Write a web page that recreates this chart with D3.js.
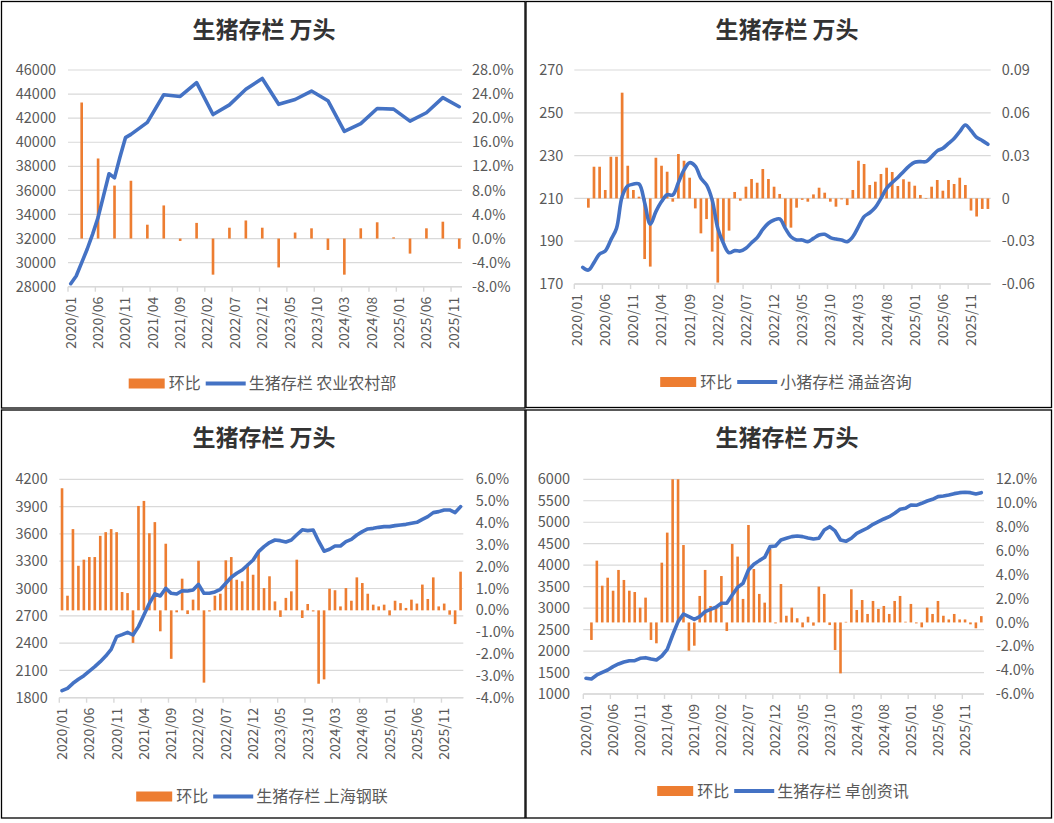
<!DOCTYPE html>
<html><head><meta charset="utf-8">
<script src="https://cdn.jsdelivr.net/npm/d3@7"></script>
<style>body{margin:0;background:#fff}svg{display:block}</style>
</head><body><svg id="c" width="1054" height="823"></svg>
<script>
const FONT = '"Noto Sans CJK SC","Noto Sans",sans-serif';
const ORANGE = '#ED7D31', BLUE = '#4472C4', GRID = '#d9d9d9', LABEL = '#595959';

// ---------- categories ----------
const months = d3.range(74).map(i => `${2020 + Math.floor(i / 12)}/${String(i % 12 + 1).padStart(2, '0')}`);
const title = '生猪存栏 万头';

// ---------- panel 1: 农业农村部 ----------
const moaMonths = ["2020/01","2020/02","2020/03","2020/04","2020/05","2020/06","2020/07","2020/08","2020/09","2020/10","2020/11","2020/12",
  "2021/03","2021/06","2021/09","2021/12","2022/03","2022/06","2022/09","2022/12","2023/03","2023/06","2023/09","2023/12",
  "2024/03","2024/06","2024/09","2024/12","2025/03","2025/06","2025/09","2025/12"];
const moaStock = [28250,28890,30000,31110,32370,33760,35570,37380,37040,38770,40380,40650,
  41650,43950,43800,44950,42300,43100,44400,45300,43150,43550,44250,43450,
  40900,41550,42800,42750,41750,42450,43700,42950];
const moaChgMonths = ["2020/03","2020/06","2020/09","2020/12",
  "2021/03","2021/06","2021/09","2021/12","2022/03","2022/06","2022/09","2022/12","2023/03","2023/06","2023/09","2023/12",
  "2024/03","2024/06","2024/09","2024/12","2025/03","2025/06","2025/09","2025/12"];
const moaChg = [22.6,13.3,8.8,9.6,2.3,5.5,-0.4,2.6,-6.0,1.8,3.0,1.8,-4.8,1.0,1.7,-1.9,-6.0,1.7,2.7,0.2,-2.5,1.7,2.8,-1.7];

// ---------- panel 2: 涌益咨询 小猪存栏 ----------
const yyStock = [null,177.8,176.5,180,184,185.4,190.6,196,210.8,215.8,216.7,216.7,208,197.9,203.8,208.5,211.7,211.6,217.4,223.3,
  226.7,225.1,219.4,216.3,209.3,196,189,184.6,185.6,185.4,186.7,189.3,191.7,195.5,198.4,199.9,200.4,196,192.1,190.6,
  190.6,189.8,191.3,192.9,193.2,191.7,191,190.6,189.8,192.1,196.8,201.5,203.3,205.8,210,214.7,217.4,219.8,222.5,225.1,
  226.9,227.2,227.2,229.5,232.2,233.4,235.7,238,241.2,244.3,241.7,238.5,237,235.3];
const yyChg = [null,null,-0.0065,0.0222,0.0222,0.0059,0.0292,0.0292,0.0741,0.0229,0.0059,0.0012,-0.0425,-0.0478,0.0285,0.0229,
  0.0187,-0.0023,0.0311,0.0264,0.0145,-0.007,-0.0245,-0.0145,-0.0373,-0.059,-0.0303,-0.0226,0.0045,-0.0016,0.0082,0.0136,
  0.011,0.0206,0.0136,0.0082,0.0031,-0.0198,-0.0205,-0.0065,-0.001,-0.0023,0.0028,0.0075,0.004,-0.0023,-0.0058,-0.0007,
  -0.0047,0.0059,0.0264,0.0241,0.0094,0.0117,0.0171,0.0215,0.0185,0.0087,0.0134,0.0117,0.0089,0.0024,-0.0004,0.0082,
  0.0129,0.0054,0.0129,0.0101,0.0145,0.0094,-0.0085,-0.0127,-0.0074,-0.0074];

// ---------- panel 3: 上海钢联 ----------
const slStock = [1877,1903,1958,2002,2042,2093,2141,2196,2258,2331,2471,2493,2518,2489,2581,2709,2837,2940,2918,3002,
  2947,2940,2976,2973,2984,3046,2947,2947,2962,2991,3057,3123,3167,3203,3258,3313,3405,3460,3505,3533,
  3526,3511,3533,3590,3645,3636,3643,3520,3410,3431,3467,3467,3515,3540,3588,3625,3654,3661,3672,3680,
  3680,3691,3698,3705,3716,3727,3760,3790,3834,3845,3863,3863,3834,3900];
const slChg = [5.59,0.67,3.72,2.04,2.32,2.44,2.44,3.41,3.58,3.72,3.58,0.84,0.79,-1.49,4.78,5.01,3.53,4.04,-0.96,3.05,
  -2.22,-0.09,1.45,-0.17,0.49,2.27,-3.31,-0.05,0.67,0.76,2.29,2.44,1.40,1.33,2.13,1.63,2.70,1.02,1.56,0.41,
  -0.30,0.57,0.87,2.32,-0.35,0.29,-0.05,-3.36,-3.16,0.99,0.92,0.18,1.02,0.44,1.51,1.25,0.76,0.26,0.18,0.26,
  -0.23,0.44,0.33,0.11,0.49,0.31,1.18,0.52,1.51,0.18,0.31,-0.20,-0.63,1.77];

// ---------- panel 4: 卓创资讯 ----------
const zcStock = [1365,1349,1443,1505,1559,1637,1699,1745,1776,1776,1831,1846,1815,1792,1885,2040,2374,2685,2863,2801,
  2739,2801,2918,2972,3019,3112,3112,3306,3484,3578,3888,4020,4106,4183,4432,4447,4587,4626,4665,4680,
  4665,4634,4610,4626,4820,4897,4797,4587,4556,4626,4742,4804,4866,4952,5014,5076,5130,5208,5301,5325,
  5402,5394,5441,5495,5534,5596,5612,5635,5666,5689,5697,5689,5658,5689];
const zcChg = [null,-1.47,5.18,3.08,3.75,2.66,4.40,3.56,2.66,2.55,1.24,2.08,-1.47,-1.75,5.01,7.53,13,13,6.49,-2.37,
  -1.95,2.22,4.40,1.38,1.32,3.89,-0.72,6.58,5.52,1.97,8.17,4.48,2.39,1.66,6.16,-0.08,3.22,0.56,1.24,0.35,
  -0.41,0.48,-0.27,3.0,2.39,-0.22,-2.31,-4.27,0.05,2.78,1.04,1.88,0.71,1.80,1.13,1.38,0.71,1.80,2.22,0.06,
  1.55,-0.08,-0.41,1.24,0.71,1.80,0.56,0.25,0.71,0.25,0.25,-0.16,-0.49,0.53];

const pctFmt = d => d.toFixed(1) + '%';
const decFmt = d => Math.abs(d) < 1e-9 ? '0' : d.toFixed(2);

const panels = [
  { id: 'p1', frame: [1.5, 1.5, 523.5, 406.5], titleX: 264, titleY: 38,
    x0: 68, x1: 462, y0: 70, y1: 286.7, cats: months.slice(0, 72),
    lDom: [28000, 46000], lStep: 2000, rDom: [-8, 28], rStep: 4, rFmt: pctFmt,
    lLabelX: 56, rLabelX: 472,
    line: moaMonths.map((m, i) => ({ c: m, v: moaStock[i] })),
    bars: moaChgMonths.map((m, i) => ({ c: m, v: moaChg[i] })),
    curve: d3.curveLinear, legendName: '生猪存栏 农业农村部', legX: 262.5, legY: 383.5 },
  { id: 'p2', frame: [526, 1.5, 525.5, 406], titleX: 787, titleY: 38,
    x0: 574.3, x1: 990.7, y0: 70, y1: 284, cats: months,
    lDom: [170, 270], lStep: 20, rDom: [-0.06, 0.09], rStep: 0.03, rFmt: decFmt,
    lLabelX: 563.3, rLabelX: 1001.7,
    line: months.map((m, i) => ({ c: m, v: yyStock[i] })),
    bars: months.map((m, i) => ({ c: m, v: yyChg[i] })),
    curve: d3.curveCatmullRom.alpha(0.5), legendName: '小猪存栏 涌益咨询', legX: 786, legY: 382 },
  { id: 'p3', frame: [1.5, 410, 523.5, 408], titleX: 264, titleY: 446,
    x0: 59.3, x1: 463.3, y0: 479.3, y1: 697.7, cats: months,
    lDom: [1800, 4200], lStep: 300, rDom: [-4, 6], rStep: 1, rFmt: pctFmt,
    lLabelX: 47.7, rLabelX: 475.7,
    line: months.map((m, i) => ({ c: m, v: slStock[i] })),
    bars: months.map((m, i) => ({ c: m, v: slChg[i] })),
    curve: d3.curveLinear, legendName: '生猪存栏 上海钢联', legX: 262, legY: 796.5 },
  { id: 'p4', frame: [526, 410, 525.5, 408], titleX: 787, titleY: 446,
    x0: 583.3, x1: 984, y0: 479.3, y1: 694, cats: months,
    lDom: [1000, 6000], lStep: 500, rDom: [-6, 12], rStep: 2, rFmt: pctFmt,
    lLabelX: 570, rLabelX: 995.7,
    line: months.map((m, i) => ({ c: m, v: zcStock[i] })),
    bars: months.map((m, i) => ({ c: m, v: zcChg[i] })),
    curve: d3.curveLinear, legendName: '生猪存栏 卓创资讯', legX: 783, legY: 791 }
];

const svg = d3.select('#c');
const defs = svg.append('defs');

function ticksOf(dom, step) {
  const n = Math.round((dom[1] - dom[0]) / step);
  return d3.range(n + 1).map(k => +(dom[0] + k * step).toFixed(6));
}

function drawPanel(p) {
  const g = svg.append('g');
  const [fx, fy, fw, fh] = p.frame;
  g.append('rect').attr('x', fx).attr('y', fy).attr('width', fw).attr('height', fh)
    .attr('fill', '#fff').attr('stroke', '#000').attr('stroke-width', 1.3);

  g.append('text').attr('x', p.titleX).attr('y', p.titleY).attr('text-anchor', 'middle')
    .attr('font-family', FONT).attr('font-size', 23).attr('font-weight', 700).attr('fill', '#333')
    .text(title);

  const x = d3.scaleBand().domain(p.cats).range([p.x0, p.x1]).paddingInner(0).paddingOuter(0);
  const bw = x.bandwidth();
  const cx = c => x(c) + bw / 2;
  const yL = d3.scaleLinear().domain(p.lDom).range([p.y1, p.y0]);
  const yR = d3.scaleLinear().domain(p.rDom).range([p.y1, p.y0]);
  const lTicks = ticksOf(p.lDom, p.lStep);
  const rTicks = ticksOf(p.rDom, p.rStep);

  // gridlines (primary axis)
  g.append('g').selectAll('line').data(lTicks).join('line')
    .attr('x1', p.x0).attr('x2', p.x1)
    .attr('y1', d => yL(d)).attr('y2', d => yL(d))
    .attr('stroke', GRID).attr('stroke-width', 1.2);

  // left axis
  const la = g.append('g').attr('transform', `translate(${p.x0},0)`)
    .call(d3.axisLeft(yL).tickValues(lTicks).tickSize(0).tickPadding(p.x0 - p.lLabelX).tickFormat(d3.format('d')));
  la.select('.domain').remove();
  la.attr('font-family', FONT).attr('font-size', 14.5);
  la.selectAll('text').attr('fill', LABEL);

  // right axis
  const ra = g.append('g').attr('transform', `translate(${p.x1},0)`)
    .call(d3.axisRight(yR).tickValues(rTicks).tickSize(0).tickPadding(p.rLabelX - p.x1).tickFormat(p.rFmt));
  ra.select('.domain').remove();
  ra.attr('font-family', FONT).attr('font-size', 14.5);
  ra.selectAll('text').attr('fill', LABEL);

  // x axis line + tick marks
  g.append('line').attr('x1', p.x0).attr('x2', p.x1).attr('y1', p.y1).attr('y2', p.y1)
    .attr('stroke', GRID).attr('stroke-width', 1.4);
  const tickCats = p.cats.filter((c, i) => i % 5 === 0);
  g.append('g').selectAll('line').data(tickCats).join('line')
    .attr('x1', d => x(d)).attr('x2', d => x(d)).attr('y1', p.y1).attr('y2', p.y1 + 5)
    .attr('stroke', GRID).attr('stroke-width', 1.4);

  const xa = g.append('g').attr('transform', `translate(0,${p.y1})`)
    .call(d3.axisBottom(x).tickValues(tickCats).tickSize(0));
  xa.select('.domain').remove();
  xa.attr('font-family', FONT).attr('font-size', 14);
  xa.selectAll('text').attr('fill', LABEL)
    .attr('transform', 'rotate(-90)').attr('text-anchor', 'end')
    .attr('x', -10).attr('y', 0).attr('dy', '0.35em');

  // clip
  defs.append('clipPath').attr('id', 'clip-' + p.id).append('rect')
    .attr('x', p.x0).attr('y', p.y0).attr('width', p.x1 - p.x0).attr('height', p.y1 - p.y0);
  const plot = g.append('g').attr('clip-path', `url(#clip-${p.id})`);

  // bars (secondary axis)
  const bwid = bw * 0.48;
  plot.append('g').selectAll('rect').data(p.bars.filter(d => d.v != null)).join('rect')
    .attr('x', d => cx(d.c) - bwid / 2).attr('width', bwid)
    .attr('y', d => Math.min(yR(d.v), yR(0)))
    .attr('height', d => Math.abs(yR(d.v) - yR(0)))
    .attr('fill', ORANGE);

  // line (primary axis)
  const pts = p.line.filter(d => d.v != null);
  g.append('path').datum(pts)
    .attr('d', d3.line().x(d => cx(d.c)).y(d => yL(d.v)).curve(p.curve))
    .attr('fill', 'none').attr('stroke', BLUE).attr('stroke-width', 3.6)
    .attr('stroke-linejoin', 'round').attr('stroke-linecap', 'round');

  // legend
  const lg = g.append('g').attr('font-family', FONT).attr('font-size', 16).attr('fill', LABEL);
  const t1 = lg.append('text').text('环比').attr('dy', '0.35em');
  const t2 = lg.append('text').text(p.legendName).attr('dy', '0.35em');
  const w1 = t1.node().getComputedTextLength(), w2 = t2.node().getComputedTextLength();
  const total = 36 + 4 + w1 + 5 + 40 + 3 + w2;
  let lx = p.legX - total / 2;
  lg.append('rect').attr('x', lx).attr('y', p.legY - 5).attr('width', 36).attr('height', 10).attr('fill', ORANGE);
  lx += 40;
  t1.attr('x', lx).attr('y', p.legY);
  lx += w1 + 5;
  lg.append('line').attr('x1', lx).attr('x2', lx + 40).attr('y1', p.legY).attr('y2', p.legY)
    .attr('stroke', BLUE).attr('stroke-width', 4);
  lx += 43;
  t2.attr('x', lx).attr('y', p.legY);
}

panels.forEach(drawPanel);
</script></body></html>
